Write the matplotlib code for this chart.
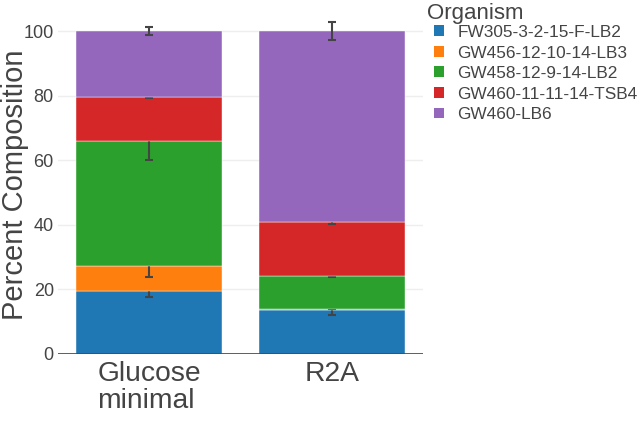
import numpy as np
import matplotlib.pyplot as plt
from matplotlib.patches import Patch

plt.rcParams['font.family'] = ['Liberation Sans', 'DejaVu Sans']

# Data
media = ["Glucose\nminimal", "R2A"]
organisms = ["FW305-3-2-15-F-LB2", "GW456-12-10-14-LB3", "GW458-12-9-14-LB2",
             "GW460-11-11-14-TSB4", "GW460-LB6"]
colors = ["#1f77b4", "#ff7f0e", "#2ca02c", "#d62728", "#9467bd"]

# percent composition per organism, [glucose, r2a]
fw305 = [19.5, 13.6]
gw456 = [7.7, 0.4]
gw458 = [38.8, 10.2]
gw460_tsb4 = [13.6, 16.8]
gw460_lb6 = [20.4, 59.0]

# error bars (std)
fw305_err = [2.0, 1.6]
gw456_err = [3.4, 0.2]
gw458_err = [5.9, 0.5]
gw460_tsb4_err = [0.3, 0.6]
gw460_lb6_err = [1.3, 2.7]

values = [fw305, gw456, gw458, gw460_tsb4, gw460_lb6]
errors = [fw305_err, gw456_err, gw458_err, gw460_tsb4_err, gw460_lb6_err]

txt = "#444444"
W, H = 643, 421
fig = plt.figure(figsize=(W / 100, H / 100), dpi=100)
ax = fig.add_axes([58 / W, 1 - 354 / H, 365 / W, (354 - 14.85) / H])

x = np.arange(len(media))
bottom = np.zeros(len(media))
for i, (name, vals, errs, c) in enumerate(zip(organisms, values, errors, colors)):
    vals = np.array(vals)
    # each trace covers the error bars of the one below it
    ax.bar(x, vals, width=0.8, bottom=bottom, color=c,
           edgecolor="white", linewidth=0.3, zorder=2 + 2 * i)
    ax.errorbar(x, bottom + vals, yerr=errs, fmt="none", ecolor=txt,
                elinewidth=1.5, capsize=3, capthick=1.5, zorder=3 + 2 * i)
    bottom = bottom + vals

ax.set_xlim(-0.5, 1.5)
ax.set_ylim(0, 105)
ax.set_yticks([0, 20, 40, 60, 80, 100])
ax.set_xticks(x)
ax.set_xticklabels(media, fontsize=20.3, color=txt, linespacing=1.05,
                   multialignment="left")
ax.tick_params(axis="y", labelsize=13, labelcolor=txt, length=0, pad=3)
ax.tick_params(axis="x", length=0, pad=5)
ax.set_ylabel("Percent Composition", fontsize=21, color=txt)
ax.yaxis.set_label_coords(-0.08, 0.5)
ax.grid(axis="y", color="#eeeeee", linewidth=1, zorder=0)
ax.axhline(0, color=txt, linewidth=1.2, zorder=20)
for s in ax.spines.values():
    s.set_visible(False)

handles = [Patch(facecolor=c, label=n) for n, c in zip(organisms, colors)]
leg = fig.legend(handles=handles, loc="upper left",
                 bbox_to_anchor=(434 / W, 1 - 25 / H), frameon=False,
                 fontsize=12.4, handlelength=0.6, handleheight=0.6,
                 handletextpad=0.75, labelspacing=0.32, borderpad=0,
                 borderaxespad=0)
for t in leg.get_texts():
    t.set_color(txt)
fig.text(427 / W, 1 - 13 / H, "Organism", fontsize=16, color=txt,
         ha="left", va="center")

fig.savefig("out.png", dpi=100)
